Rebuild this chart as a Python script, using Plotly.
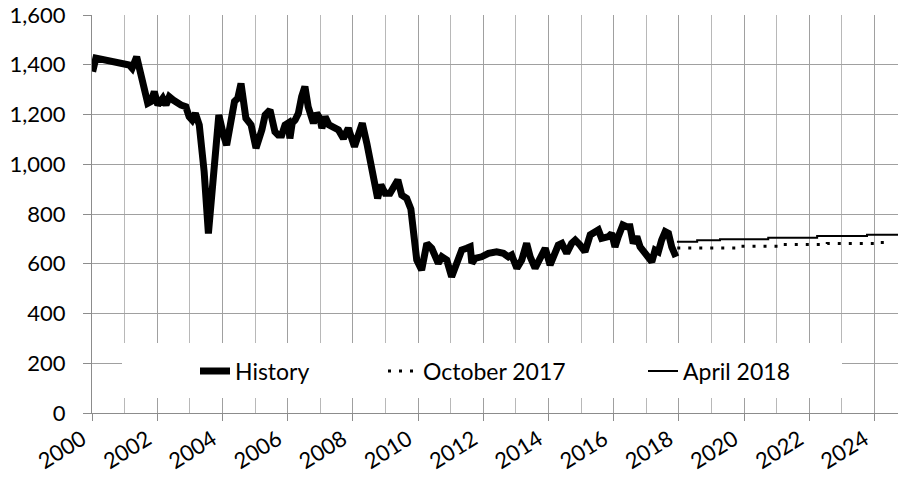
import plotly.graph_objects as go

# ---- data (decimal years) ----
hist_year = [2000.02, 2000.12, 2001.14, 2001.23, 2001.37, 2001.50, 2001.71, 2001.81, 2001.91, 2002.02,
             2002.17, 2002.27, 2002.37, 2002.49, 2002.63, 2002.73, 2002.88, 2002.98, 2003.07, 2003.17,
             2003.29, 2003.44, 2003.57, 2003.70, 2003.89, 2004.03, 2004.13, 2004.37, 2004.47, 2004.57,
             2004.72, 2004.88, 2005.03, 2005.21, 2005.31, 2005.46, 2005.61, 2005.71, 2005.82, 2005.92,
             2006.02, 2006.07, 2006.14, 2006.23, 2006.33, 2006.43, 2006.53, 2006.63, 2006.79, 2006.89,
             2006.99, 2007.05, 2007.15, 2007.27, 2007.45, 2007.56, 2007.71, 2007.86, 2008.05, 2008.17,
             2008.29, 2008.43, 2008.58, 2008.76, 2008.86, 2008.99, 2009.14, 2009.24, 2009.38, 2009.50,
             2009.65, 2009.78, 2009.86, 2009.96, 2010.11, 2010.27, 2010.42, 2010.52, 2010.62, 2010.73,
             2010.88, 2011.03, 2011.19, 2011.34, 2011.49, 2011.60, 2011.65, 2011.75, 2011.95, 2012.16,
             2012.41, 2012.62, 2012.77, 2012.87, 2013.03, 2013.18, 2013.33, 2013.44, 2013.59, 2013.74,
             2013.90, 2014.05, 2014.15, 2014.30, 2014.41, 2014.56, 2014.71, 2014.82, 2014.97, 2015.12,
             2015.28, 2015.43, 2015.53, 2015.63, 2015.74, 2015.84, 2015.94, 2016.04, 2016.14, 2016.28,
             2016.40, 2016.50, 2016.60, 2016.71, 2016.81, 2016.96, 2017.06, 2017.17, 2017.27, 2017.37,
             2017.47, 2017.58, 2017.68, 2017.78, 2017.91]
hist_value = [1372, 1427, 1399, 1386, 1432, 1347, 1245, 1252, 1292, 1238,
              1265, 1238, 1271, 1258, 1245, 1238, 1231, 1191, 1178, 1205,
              1158, 970, 722, 917, 1198, 1118, 1077, 1252, 1265, 1325,
              1185, 1158, 1065, 1138, 1198, 1218, 1131, 1118, 1118, 1158,
              1166, 1104, 1166, 1178, 1205, 1272, 1312, 1231, 1165, 1205,
              1185, 1145, 1191, 1158, 1145, 1138, 1104, 1145, 1071, 1118,
              1165, 1084, 964, 863, 917, 883, 883, 910, 937, 876,
              863, 820, 695, 615, 575, 682, 662, 622, 602, 628,
              615, 548, 615, 655, 662, 668, 602, 622, 628, 642,
              648, 642, 628, 635, 582, 615, 682, 628, 582, 628,
              662, 595, 622, 675, 682, 642, 682, 695, 675, 648,
              716, 729, 736, 702, 702, 709, 722, 668, 709, 756,
              749, 749, 682, 709, 668, 642, 622, 608, 655, 648,
              695, 729, 722, 668, 628]

oct_year = [2017.95, 2019.75, 2021.15, 2022.55, 2024.00, 2024.42]
oct_value = [663, 670, 677, 681, 685, 685]

apr_year = [2017.94, 2018.56, 2019.26, 2020.74, 2022.24, 2023.77, 2024.72]
apr_value = [688, 694, 698, 705, 712, 717, 717]

x_ticks = list(range(2000, 2025, 2))
y_ticks = list(range(0, 1601, 200))

FONT = "Lato"

fig = go.Figure()
fig.add_trace(go.Scatter(x=hist_year, y=hist_value, mode="lines", name="History",
                         line=dict(color="black", width=7), legend="legend"))
fig.add_trace(go.Scatter(x=oct_year, y=oct_value, mode="lines", name="October 2017",
                         line=dict(color="black", width=3, dash="3px,8px", shape="hv"),
                         legend="legend2"))
fig.add_trace(go.Scatter(x=apr_year, y=apr_value, mode="lines", name="April 2018",
                         line=dict(color="black", width=2, shape="hv"), legend="legend3"))

W, H = 898, 484
L, R, T, B = 92, 0, 15, 71
PL, PR, PT, PB = L, W - R, T, H - B
pw, ph = PR - PL, PB - PT

def px_x(p):
    return (p - PL) / pw

def px_y(p):
    return (PB - p) / ph

# white legend box
fig.add_shape(type="rect", xref="paper", yref="paper",
              x0=px_x(122), x1=px_x(842), y0=px_y(398), y1=px_y(343),
              fillcolor="white", line=dict(width=0), layer="above")

leg_common = dict(orientation="h", xanchor="left", yanchor="middle",
                  bgcolor="rgba(0,0,0,0)", borderwidth=0,
                  font=dict(family=FONT, size=23, color="black"))
ly = px_y(371)
fig.update_layout(
    showlegend=True,
    legend=dict(x=px_x(195), y=ly, **leg_common),
    legend2=dict(x=px_x(383), y=ly, **leg_common),
    legend3=dict(x=px_x(643), y=ly, **leg_common),
)

fig.update_layout(
    width=W, height=H,
    margin=dict(l=L, r=R, t=T, b=B, pad=0, autoexpand=False),
    plot_bgcolor="white", paper_bgcolor="white",
    font=dict(family=FONT, color="black"),
    xaxis=dict(range=[2000, 2024.72], tickmode="array", tickvals=x_ticks,
               ticktext=[str(v) for v in x_ticks], tickangle=-32,
               tickfont=dict(family=FONT, size=22, color="black"),
               ticklabelstandoff=-3, ticklabelshift=-10, ticklabeloverflow="allow",
               showgrid=True, gridcolor="#a0a0a0", gridwidth=1,
               minor=dict(dtick=1, tick0=2000, showgrid=True, gridcolor="#b8b8b8", gridwidth=1),
               ticks="outside", ticklen=7, tickcolor="#8c8c8c",
               showline=True, linecolor="#8c8c8c", linewidth=1,
               zeroline=False, automargin=False),
    yaxis=dict(range=[0, 1600], tickmode="array", tickvals=y_ticks,
               ticktext=[f"{v:,}" for v in y_ticks],
               tickfont=dict(family=FONT, size=22, color="black"),
               ticklabelstandoff=13, ticklabeloverflow="allow",
               showgrid=True, gridcolor="#a0a0a0", gridwidth=1,
               ticks="outside", ticklen=8, tickcolor="#8c8c8c",
               showline=True, linecolor="#8c8c8c", linewidth=1,
               zeroline=False, automargin=False),
)

fig.write_html("out.html", config={"displayModeBar": False},
               post_script="document.body.style.margin='0px';")
